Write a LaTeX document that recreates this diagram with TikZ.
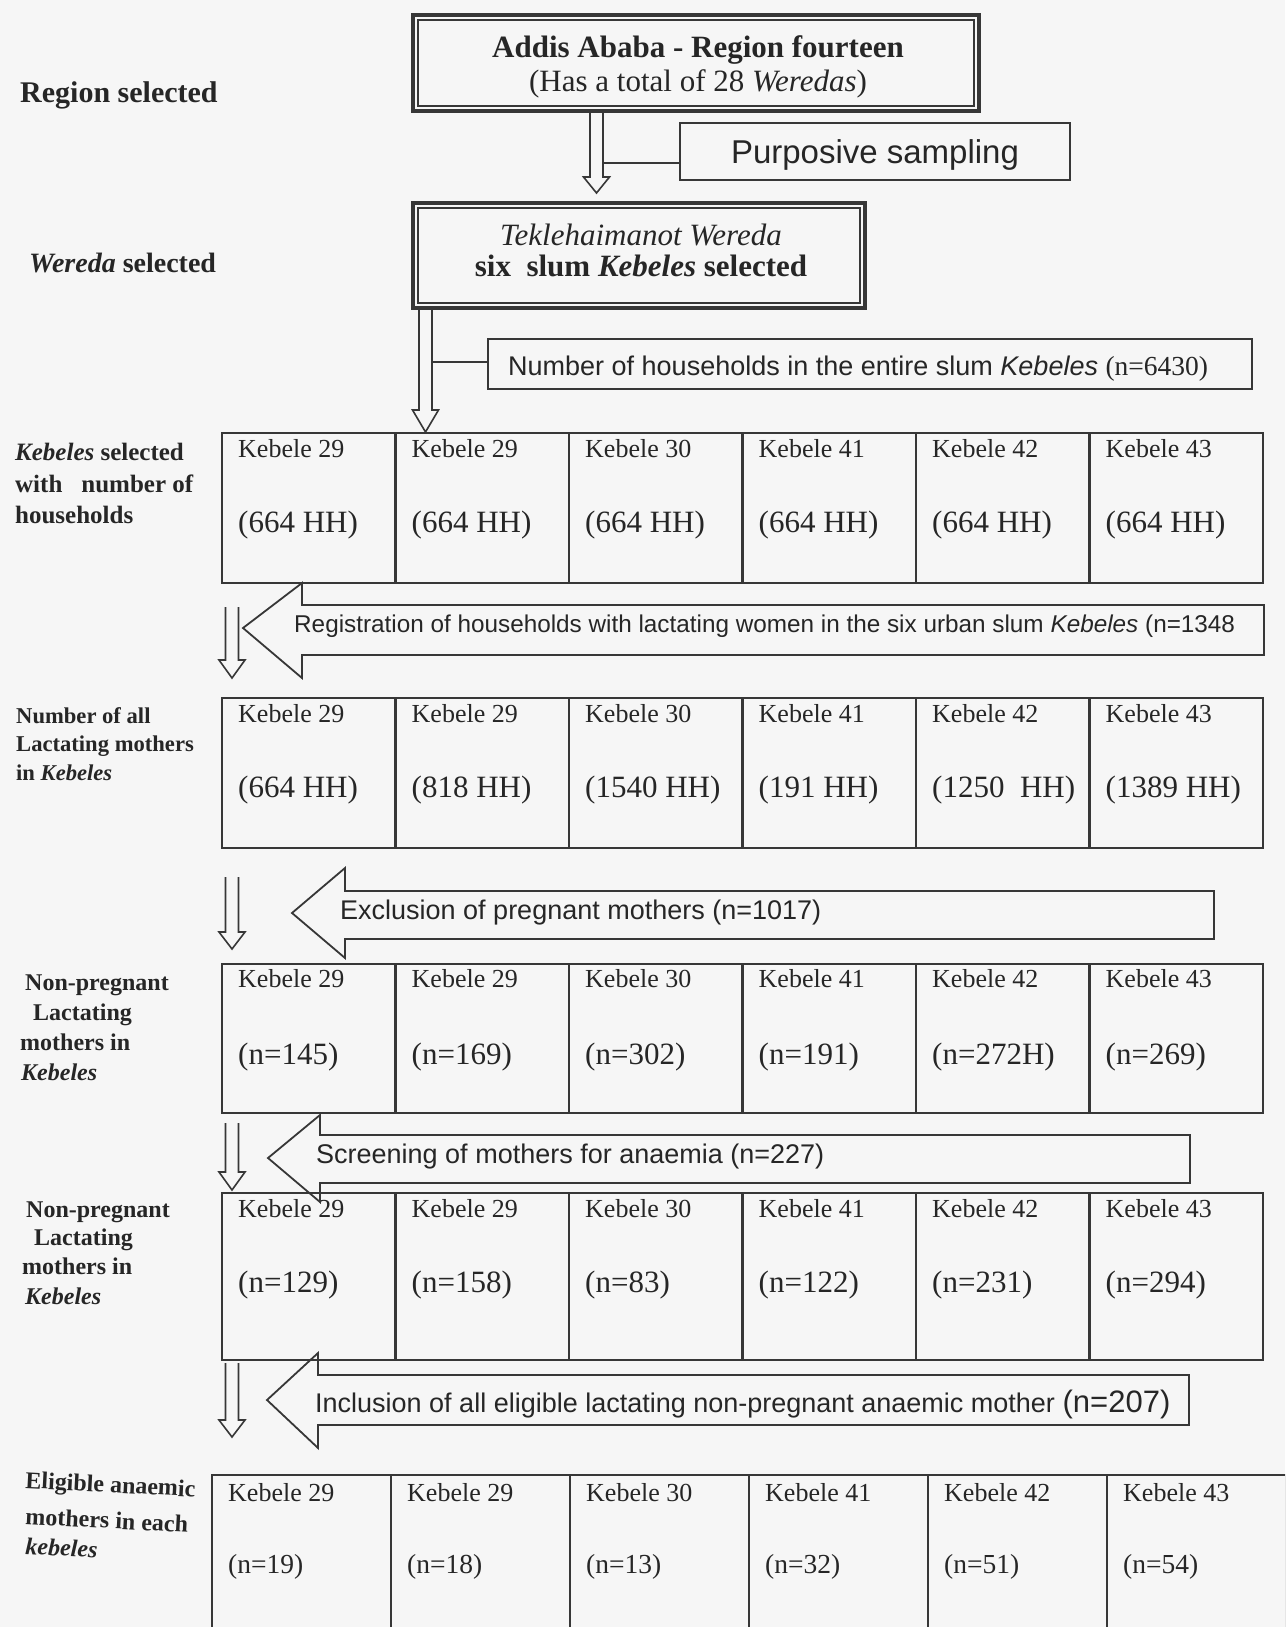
\documentclass[tikz,border=0pt]{standalone}
\usepackage{fontspec}
\setmainfont{Liberation Serif}
\newfontfamily\sansf{Liberation Sans}
\usetikzlibrary{calc}
\definecolor{lineclr}{RGB}{55,55,55}
\definecolor{txtclr}{RGB}{38,38,38}
\definecolor{pagebg}{RGB}{246,246,246}
\tikzset{
  frm/.style={draw=lineclr, line width=2.5pt, inner sep=0pt, outer sep=0pt},
  cellbox/.style={frm, anchor=north west},
  ktop/.style={anchor=base west, inner sep=0pt, text=txtclr, font=\fontsize{26}{30}\selectfont},
  kval/.style={anchor=base west, inner sep=0pt, text=txtclr},
  rowlab/.style={anchor=base west, inner sep=0pt, text=txtclr, font=\bfseries\fontsize{24}{28}\selectfont},
  sanslab/.style={anchor=base west, inner sep=0pt, text=txtclr, font=\sansf\fontsize{27}{32}\selectfont},
  boxtxt/.style={anchor=base, inner sep=0pt, text=txtclr},
  hollow/.style={draw=lineclr, line width=1.6pt, line join=miter},
  blockarr/.style={draw=lineclr, line width=1.8pt, line join=miter},
  conn/.style={draw=lineclr, line width=2pt}
}
% row of six cells: #1 prefix, #2 left, #3 top, #4 width, #5 height, #6 top offset, #7 value offset, #8 list, #9 value size
\newcommand\kebrow[9]{%
  \foreach \k/\v [count=\i] in {#8} {
    \node[cellbox, minimum width=#4, minimum height=#5] (#1c\i) at ({#2+(\i-1)*#4},#3) {};
    \node[ktop] (#1k\i) at ($(#1c\i.north west)+(16,#6)$) {Kebele \k};
    \node[kval, font=\fontsize{#9}{#9}\selectfont] (#1v\i) at ($(#1c\i.north west)+(16,#7)$) {\v};
  }}
% hollow down arrow: #1 from, #2 to, #3 start gap, #4 end gap, #5 head length
\newcommand\hdown[5]{%
  \draw[hollow] let \p1=#1, \p2=#2 in
   (\x1-6.5pt,\y1-#3) -- (\x1-6.5pt,\y2+#4+#5) -- (\x1-13pt,\y2+#4+#5) -- (\x1,\y2+#4)
   -- (\x1+13pt,\y2+#4+#5) -- (\x1+6.5pt,\y2+#4+#5) -- (\x1+6.5pt,\y1-#3);}
% left block arrow: tipx, tipy, headx, headtop, headbot, shafttop, shaftbot, right
\newcommand\larrow[8]{%
  \draw[blockarr] (#1,#2) -- (#3,#4) -- (#3,#6) -- (#8,#6) -- (#8,#7) -- (#3,#7) -- (#3,#5) -- cycle;}
\begin{document}
\begin{tikzpicture}[x=1pt,y=-1pt]
\useasboundingbox (0,0) rectangle (1285,1627);
\fill[pagebg] (0,0) rectangle (1285,1627);
\clip (0,0) rectangle (1285,1627);

% top box
\node[frm, line width=4pt, minimum width=566, minimum height=96] (box1) at (696,63) {};
\draw[lineclr, line width=1.8pt] ($(box1.north west)+(5,5)$) rectangle ($(box1.south east)+(-5,-5)$);
\node[boxtxt, font=\bfseries\fontsize{31}{36}\selectfont] (b1a) at (698,58) {Addis Ababa - Region fourteen};
\node[boxtxt, font=\fontsize{31}{36}\selectfont] (b1b) at (698,92) {(Has a total of 28 \textit{Weredas})};

% second box
\node[frm, line width=4pt, minimum width=452, minimum height=105] (box2) at (639,255.5) {};
\draw[lineclr, line width=1.8pt] ($(box2.north west)+(5,5)$) rectangle ($(box2.south east)+(-5,-5)$);
\node[boxtxt, font=\itshape\fontsize{31}{36}\selectfont] (b2a) at (641,245) {Teklehaimanot Wereda};
\node[boxtxt, font=\bfseries\fontsize{31}{36}\selectfont] (b2b) at (641,276) {six\ \ slum \textit{Kebeles} selected};

% side boxes
\node[frm, line width=2pt, minimum width=390, minimum height=57] (purp) at (875,151.5) {};
\node[boxtxt, font=\sansf\fontsize{33}{38}\selectfont] (purpt) at (875,163) {Purposive sampling};
\node[frm, line width=2pt, minimum width=764, minimum height=50] (hh) at (870,364) {};
\node[sanslab] (hht) at (508,375) {Number of households in the entire slum \textit{Kebeles} {\rmfamily\fontsize{27.5}{32}\selectfont(n=6430)}};

% rows
\kebrow{r1}{222}{433}{173.5}{150}{24}{99}{29/(664 HH),29/(664 HH),30/(664 HH),41/(664 HH),42/(664 HH),43/(664 HH)}{31}
\kebrow{r2}{222}{698}{173.5}{150}{24}{99}{29/(664 HH),29/(818 HH),30/(1540 HH),41/(191 HH),42/(1250\ \ HH),43/(1389 HH)}{31}
\kebrow{r3}{222}{964}{173.5}{149}{23}{100}{29/(n=145),29/(n=169),30/(n=302),41/(n=191),42/(n=272H),43/(n=269)}{31}
\kebrow{r4}{222}{1193}{173.5}{167}{24}{99}{29/(n=129),29/(n=158),30/(n=83),41/(n=122),42/(n=231),43/(n=294)}{31}
\kebrow{r5}{212}{1475}{179}{175}{26}{98}{29/(n=19),29/(n=18),30/(n=13),41/(n=32),42/(n=51),43/(n=54)}{27.5}

% connectors at top
\coordinate (ax) at (596.5,0);
\hdown{(ax |- box1.south)}{(ax |- box2.north)}{0pt}{10pt}{16pt}
\coordinate (jA) at (603,163);
\draw[conn] (jA) -- (jA -| purp.west);
\coordinate (bx) at (425.5,0);
\hdown{(bx |- box2.south)}{(bx |- r1c1.north)}{0pt}{1pt}{22pt}
\coordinate (jB) at (432,362);
\draw[conn] (jB) -- (jB -| hh.west);

% small down arrows between rows
\coordinate (sx) at (232,0);
\hdown{(sx |- r1c1.south)}{(sx |- r2c1.north)}{24pt}{20pt}{18pt}
\hdown{(sx |- r2c1.south)}{(sx |- r3c1.north)}{29pt}{15pt}{17pt}
\hdown{(sx |- r3c1.south)}{(sx |- r4c1.north)}{10pt}{3pt}{18pt}
\hdown{(sx |- r4c1.south)}{(sx |- r5c1.north)}{3pt}{38pt}{17pt}

% block arrows with texts
\larrow{243}{628}{302}{583}{678}{605}{655}{1264}
\node[sanslab, font=\sansf\fontsize{24.3}{29}\selectfont] (regt) at (294,632) {Registration of households with lactating women in the six urban slum \textit{Kebeles} (n=1348};
\larrow{292}{913}{345}{868}{958}{891}{939}{1214}
\node[sanslab] (exct) at (340,919) {Exclusion of pregnant mothers (n=1017)};
\larrow{268}{1158}{320}{1115}{1202}{1135}{1183}{1190}
\node[sanslab] (scrt) at (316,1163) {Screening of mothers for anaemia (n=227)};
\larrow{267}{1400}{318}{1353}{1448}{1375}{1425}{1189}
\node[sanslab] (inct) at (315,1412) {Inclusion of all eligible lactating non-pregnant anaemic mother {\fontsize{31}{36}\selectfont(n=207)}};

% left labels
\node[rowlab, font=\bfseries\fontsize{30}{34}\selectfont] (lreg) at (20,103) {Region selected};
\node[rowlab, font=\bfseries\fontsize{28}{32}\selectfont] (lwer) at (29,272) {\textit{Wereda} selected};
\node[rowlab, font=\bfseries\fontsize{25}{29}\selectfont] (l1a) at (15,460) {\textit{Kebeles} selected};
\node[rowlab, font=\bfseries\fontsize{25}{29}\selectfont] (l1b) at (15,492) {with\hspace{19pt}number of};
\node[rowlab, font=\bfseries\fontsize{25}{29}\selectfont] (l1c) at (15,523) {households};
\node[rowlab, font=\bfseries\fontsize{22.6}{27}\selectfont] (l2a) at (16,723) {Number of all};
\node[rowlab, font=\bfseries\fontsize{22.6}{27}\selectfont] (l2b) at (16,751) {Lactating mothers};
\node[rowlab, font=\bfseries\fontsize{22.6}{27}\selectfont] (l2c) at (16,780) {in \textit{Kebeles}};
\node[rowlab] (l3a) at (25,990) {Non-pregnant};
\node[rowlab] (l3b) at (33,1020) {Lactating};
\node[rowlab] (l3c) at (20,1050) {mothers in};
\node[rowlab] (l3d) at (21,1080) {\textit{Kebeles}};
\node[rowlab] (l4a) at (26,1217) {Non-pregnant};
\node[rowlab] (l4b) at (34,1245) {Lactating};
\node[rowlab] (l4c) at (22,1274) {mothers in};
\node[rowlab] (l4d) at (25,1304) {\textit{Kebeles}};
\node[rowlab, rotate=-3] (l5a) at (25,1488) {Eligible anaemic};
\node[rowlab, rotate=-3] (l5b) at (25,1524) {mothers in each};
\node[rowlab, rotate=-3] (l5c) at (25,1554) {\textit{kebeles}};
\end{tikzpicture}
\end{document}
